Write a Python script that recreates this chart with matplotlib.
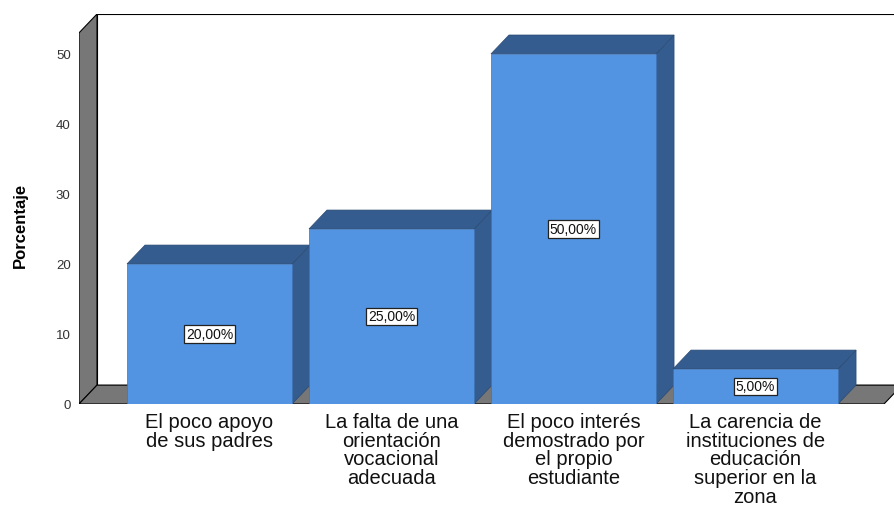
"""Bar chart (SPSS-style 3D) of reasons, percentage per category."""

import matplotlib
matplotlib.use("Agg")
import matplotlib.pyplot as plt
from matplotlib.patches import Polygon

plt.rcParams["font.family"] = ["Liberation Sans", "DejaVu Sans"]

CATEGORIES = [
    "El poco apoyo\nde sus padres",
    "La falta de una\norientación\nvocacional\nadecuada",
    "El poco interés\ndemostrado por\nel propio\nestudiante",
    "La carencia de\ninstituciones de\neducación\nsuperior en la\nzona",
]
PERCENTS = [20.0, 25.0, 50.0, 5.0]
Y_TICKS = [0, 10, 20, 30, 40, 50]
Y_LABEL = "Porcentaje"

FRONT = "#5294e2"
SHADE = "#345c8e"
WALL = "#777777"

BAR_W = 0.907
DX = 0.099      # depth offset in x (category units)
DY = 2.7        # depth offset in y (percent units)
WALL_TOP = 53.0
X_LEFT = (79 - 209.5) / 182
X_RIGHT = (894 - 209.5) / 182


def add_poly(ax, pts, fc, ec="black", lw=0.8, z=1):
    ax.add_patch(Polygon(pts, closed=True, facecolor=fc, edgecolor=ec,
                         linewidth=lw, joinstyle="miter", zorder=z))


def draw_walls(ax):
    xl, xr = X_LEFT, X_RIGHT + 0.2
    # back wall
    add_poly(ax, [(xl + DX, DY), (xr + DX, DY), (xr + DX, WALL_TOP + DY),
                  (xl + DX, WALL_TOP + DY)], "white", z=1)
    # left wall
    add_poly(ax, [(xl, 0), (xl + DX, DY), (xl + DX, WALL_TOP + DY),
                  (xl, WALL_TOP)], WALL, z=2)
    # floor
    floor_r = (884 - 209.5) / 182
    add_poly(ax, [(xl, 0), (floor_r, 0), (floor_r + DX, DY),
                  (xl + DX, DY)], WALL, z=2)


def draw_bar(ax, x, h, z):
    x0, x1 = x - BAR_W / 2, x + BAR_W / 2
    add_poly(ax, [(x1, 0), (x1 + DX, DY), (x1 + DX, h + DY), (x1, h)],
             SHADE, ec="#2a4a73", lw=0.5, z=z)
    add_poly(ax, [(x0, h), (x1, h), (x1 + DX, h + DY), (x0 + DX, h + DY)],
             SHADE, ec="#2a4a73", lw=0.5, z=z)
    add_poly(ax, [(x0, 0), (x1, 0), (x1, h), (x0, h)],
             FRONT, ec="#3f74b5", lw=0.5, z=z)
    ax.text(x, h / 2, f"{h:.2f}%".replace(".", ","), ha="center", va="center",
            fontsize=10, color="#111111", zorder=z + 1,
            bbox=dict(boxstyle="square,pad=0.12", facecolor="white",
                      edgecolor="#222222", linewidth=0.9))


def main():
    fig = plt.figure(figsize=(8.94, 5.06), dpi=100)
    ax = fig.add_axes([79 / 894, (506 - 405) / 506, (894 - 79) / 894,
                       (405 - 15) / 506])
    ax.set_xlim(X_LEFT, X_RIGHT)
    ax.set_ylim(0, WALL_TOP + DY)

    draw_walls(ax)
    for i, p in enumerate(PERCENTS):
        draw_bar(ax, i, p, 3 + i * 2)

    for s in ax.spines.values():
        s.set_visible(False)
    ax.set_yticks(Y_TICKS)
    ax.set_yticklabels([str(t) for t in Y_TICKS], fontsize=9.5, color="#333333")
    ax.tick_params(axis="y", length=0, pad=6)
    ax.set_xticks(range(len(CATEGORIES)))
    ax.set_xticklabels(CATEGORIES, fontsize=14.5, linespacing=0.97,
                       color="#111111")
    ax.tick_params(axis="x", length=0, pad=6)
    ax.set_ylabel(Y_LABEL, fontsize=12, fontweight="bold")
    ax.yaxis.set_label_coords(-0.0626, 0.46)

    fig.savefig("out.png", dpi=100)
    plt.close(fig)


if __name__ == "__main__":
    main()
